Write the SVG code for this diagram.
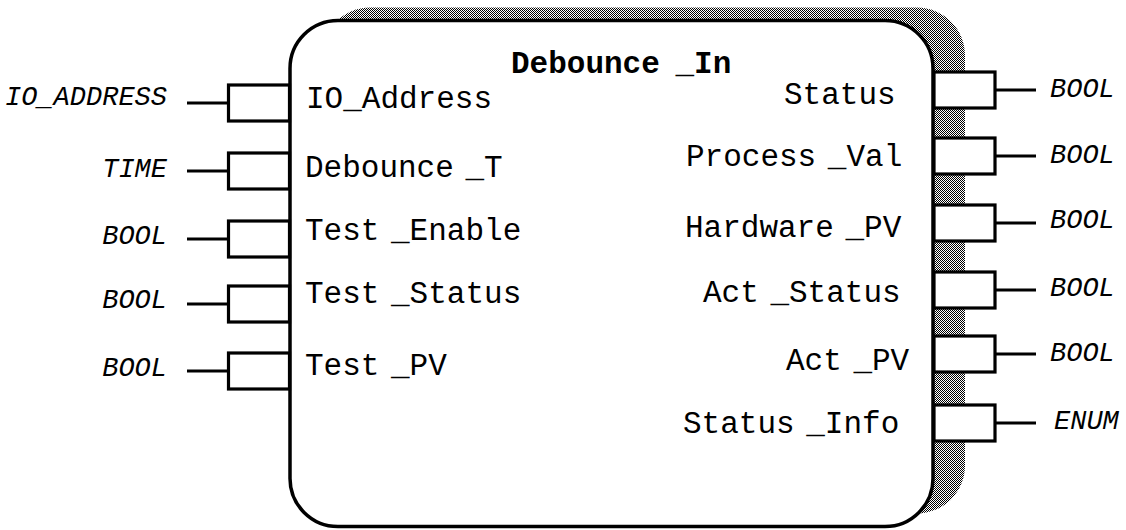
<svg xmlns="http://www.w3.org/2000/svg" width="1126" height="530" viewBox="0 0 1126 530">
<style>
.ln{stroke:#000;stroke-width:3.2;fill:none}
.pin{stroke:#000;stroke-width:3.2;fill:#fff}
.lbl{font-family:"Liberation Mono","Courier New",monospace;font-size:31px;fill:#000;word-spacing:-7px}
.ttl{font-family:"Liberation Mono","Courier New",monospace;font-size:31px;font-weight:bold;fill:#000;word-spacing:-3px}
.typ{font-family:"Liberation Mono","Courier New",monospace;font-size:27px;font-style:italic;fill:#000}
</style>
<defs>
<pattern id="dots" width="2" height="2" patternUnits="userSpaceOnUse">
<rect width="2" height="2" fill="#fff"/>
<rect x="0" y="0" width="1" height="1" fill="#000"/>
<rect x="1" y="1" width="1" height="1" fill="#000"/>
</pattern>
</defs>
<rect width="1126" height="530" fill="#fff"/>
<g id="block">
<rect x="322" y="7.5" width="643" height="506" rx="48" fill="url(#dots)"/>
<rect x="290" y="20.5" width="643" height="506" rx="48" fill="#fff" stroke="#000" stroke-width="3.5"/>
<text class="ttl" x="511" y="73">Debounce _In</text>
</g>
<g id="connectors">
<line class="ln" x1="187" y1="103" x2="229" y2="103"/>
<line class="ln" x1="187" y1="171" x2="229" y2="171"/>
<line class="ln" x1="187" y1="239" x2="229" y2="239"/>
<line class="ln" x1="187" y1="304" x2="229" y2="304"/>
<line class="ln" x1="187" y1="371" x2="229" y2="371"/>
<line class="ln" x1="995" y1="90" x2="1036" y2="90"/>
<line class="ln" x1="995" y1="156" x2="1036" y2="156"/>
<line class="ln" x1="995" y1="223" x2="1036" y2="223"/>
<line class="ln" x1="995" y1="290" x2="1036" y2="290"/>
<line class="ln" x1="995" y1="354" x2="1036" y2="354"/>
<line class="ln" x1="995" y1="423" x2="1036" y2="423"/>
</g>
<g id="in-io-address">
<rect class="pin" x="228.5" y="85" width="61" height="36"/>
<text class="typ" x="167" y="105" text-anchor="end">IO_ADDRESS</text>
<text class="lbl" x="306" y="108">IO_Address</text>
</g>
<g id="in-debounce-t">
<rect class="pin" x="228.5" y="153" width="61" height="36"/>
<text class="typ" x="167" y="177" text-anchor="end">TIME</text>
<text class="lbl" x="305" y="177">Debounce _T</text>
</g>
<g id="in-test-enable">
<rect class="pin" x="228.5" y="221" width="61" height="36"/>
<text class="typ" x="167" y="244" text-anchor="end">BOOL</text>
<text class="lbl" x="305" y="240">Test _Enable</text>
</g>
<g id="in-test-status">
<rect class="pin" x="228.5" y="286" width="61" height="36"/>
<text class="typ" x="167" y="308" text-anchor="end">BOOL</text>
<text class="lbl" x="305" y="303">Test _Status</text>
</g>
<g id="in-test-pv">
<rect class="pin" x="228.5" y="353" width="61" height="36"/>
<text class="typ" x="167" y="376" text-anchor="end">BOOL</text>
<text class="lbl" x="305" y="375">Test _PV</text>
</g>
<g id="out-status">
<rect class="pin" x="934" y="72" width="61" height="36"/>
<text class="lbl" x="784" y="104">Status</text>
<text class="typ" x="1050" y="97">BOOL</text>
</g>
<g id="out-process-val">
<rect class="pin" x="934" y="138" width="61" height="36"/>
<text class="lbl" x="686" y="166">Process _Val</text>
<text class="typ" x="1050" y="163">BOOL</text>
</g>
<g id="out-hardware-pv">
<rect class="pin" x="934" y="205" width="61" height="36"/>
<text class="lbl" x="685" y="237">Hardware _PV</text>
<text class="typ" x="1050" y="228">BOOL</text>
</g>
<g id="out-act-status">
<rect class="pin" x="934" y="272" width="61" height="36"/>
<text class="lbl" x="703" y="302">Act _Status</text>
<text class="typ" x="1050" y="296">BOOL</text>
</g>
<g id="out-act-pv">
<rect class="pin" x="934" y="336" width="61" height="36"/>
<text class="lbl" x="786" y="370">Act _PV</text>
<text class="typ" x="1050" y="361">BOOL</text>
</g>
<g id="out-status-info">
<rect class="pin" x="934" y="405" width="61" height="36"/>
<text class="lbl" x="683" y="433">Status _Info</text>
<text class="typ" x="1054" y="429">ENUM</text>
</g>
</svg>
